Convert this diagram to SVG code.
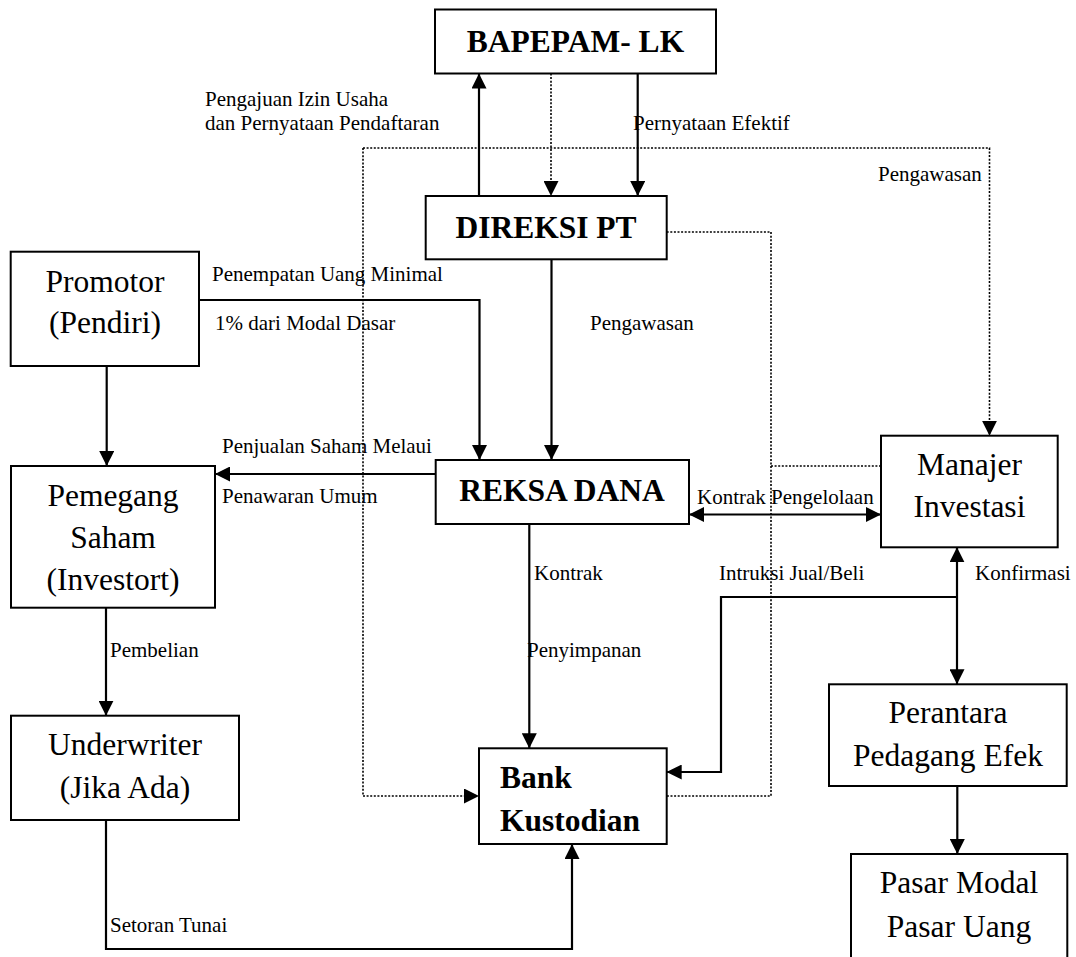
<svg xmlns="http://www.w3.org/2000/svg" width="1076" height="957" viewBox="0 0 1076 957">
<style>
.box{fill:#fff;stroke:#000;stroke-width:2}
.t{font-family:"Liberation Serif","Times New Roman",serif;fill:#000}
.n{font-size:31.5px;text-anchor:middle}
.b{font-size:31.5px;font-weight:bold}
.m{text-anchor:middle}
.l{font-size:21px}
.c{fill:none;stroke:#000;stroke-width:2.2}
.d{fill:none;stroke:#000;stroke-width:1.6;stroke-dasharray:2 1.6}
</style>
<defs>
<marker id="ah" markerUnits="userSpaceOnUse" markerWidth="15" markerHeight="15" refX="15" refY="7.5" orient="auto-start-reverse" viewBox="0 0 15 15"><path d="M0,0 L15,7.5 L0,15 z" fill="#000"/></marker>
</defs>
<rect width="1076" height="957" fill="#fff"/>
<g id="connectors">
<path class="d" d="M363,148 H989.5 V435.7" marker-end="url(#ah)"/>
<path class="d" d="M363,148 V796 H479" marker-end="url(#ah)"/>
<path class="d" d="M666.7,232 H771 V796 H666.7"/>
<path class="d" d="M881,466 H771"/>
<path class="c" d="M479,196 V73.5" marker-end="url(#ah)"/>
<path class="d" d="M551,73.5 V196" marker-end="url(#ah)"/>
<path class="c" d="M637.7,73.5 V196" marker-end="url(#ah)"/>
<path class="c" d="M106.7,366 V466" marker-end="url(#ah)"/>
<path class="c" d="M199,300 H479.5 V460" marker-end="url(#ah)"/>
<path class="c" d="M551.5,259.3 V460" marker-end="url(#ah)"/>
<path class="c" d="M435.7,474 H215" marker-end="url(#ah)"/>
<path class="c" d="M689,514.5 H881" marker-start="url(#ah)" marker-end="url(#ah)"/>
<path class="c" d="M529.3,524 V748.3" marker-end="url(#ah)"/>
<path class="c" d="M957,547.3 V684.3" marker-start="url(#ah)" marker-end="url(#ah)"/>
<path class="c" d="M957,597 H721 V772 H666.7" marker-end="url(#ah)"/>
<path class="c" d="M957.3,786 V854" marker-end="url(#ah)"/>
<path class="c" d="M106,607.7 V715.7" marker-end="url(#ah)"/>
<path class="c" d="M106,820 V949 H572 V844" marker-end="url(#ah)"/>
</g>
<g id="labels" class="t l">
<text x="205" y="106">Pengajuan Izin Usaha</text>
<text x="205" y="130">dan Pernyataan Pendaftaran</text>
<text x="633" y="130">Pernyataan Efektif</text>
<text x="878" y="181">Pengawasan</text>
<text x="212" y="281">Penempatan Uang Minimal</text>
<text x="215" y="330">1% dari Modal Dasar</text>
<text x="590" y="330">Pengawasan</text>
<text x="222" y="453">Penjualan Saham Melaui</text>
<text x="222" y="503">Penawaran Umum</text>
<text x="697" y="504">Kontrak Pengelolaan</text>
<text x="534" y="580">Kontrak</text>
<text x="719" y="580">Intruksi Jual/Beli</text>
<text x="975" y="580">Konfirmasi</text>
<text x="527" y="657">Penyimpanan</text>
<text x="110" y="657">Pembelian</text>
<text x="110" y="932">Setoran Tunai</text>
</g>
<g id="bapepam"><rect class="box" x="435" y="9.5" width="281" height="64"/><text class="t b m" x="575.5" y="52">BAPEPAM- LK</text></g>
<g id="direksi"><rect class="box" x="425.7" y="196" width="241" height="63.3"/><text class="t b m" x="546" y="238">DIREKSI PT</text></g>
<g id="promotor"><rect class="box" x="10.7" y="251.7" width="188.3" height="114.3"/><text class="t n" x="105" y="292">Promotor</text><text class="t n" x="105" y="333">(Pendiri)</text></g>
<g id="pemegang"><rect class="box" x="11" y="466" width="204" height="141.7"/><text class="t n" x="113" y="506">Pemegang</text><text class="t n" x="113" y="548">Saham</text><text class="t n" x="113" y="590">(Investort)</text></g>
<g id="underwriter"><rect class="box" x="11" y="715.7" width="228" height="104.3"/><text class="t n" x="125" y="755">Underwriter</text><text class="t n" x="125" y="798">(Jika Ada)</text></g>
<g id="reksadana"><rect class="box" x="435.7" y="460" width="253.3" height="64"/><text class="t b m" x="562" y="501">REKSA DANA</text></g>
<g id="manajer"><rect class="box" x="881" y="435.7" width="176.7" height="111.6"/><text class="t n" x="969.4" y="475">Manajer</text><text class="t n" x="969.4" y="517">Investasi</text></g>
<g id="bank"><rect class="box" x="479" y="748.3" width="187.7" height="95.7"/><text class="t b" x="500" y="788">Bank</text><text class="t b" x="500" y="831">Kustodian</text></g>
<g id="perantara"><rect class="box" x="829" y="684.3" width="237.7" height="101.7"/><text class="t n" x="948" y="723">Perantara</text><text class="t n" x="948" y="766">Pedagang Efek</text></g>
<g id="pasar"><rect class="box" x="851" y="854" width="216.3" height="110"/><text class="t n" x="959" y="893">Pasar Modal</text><text class="t n" x="959" y="937">Pasar Uang</text></g>
</svg>
